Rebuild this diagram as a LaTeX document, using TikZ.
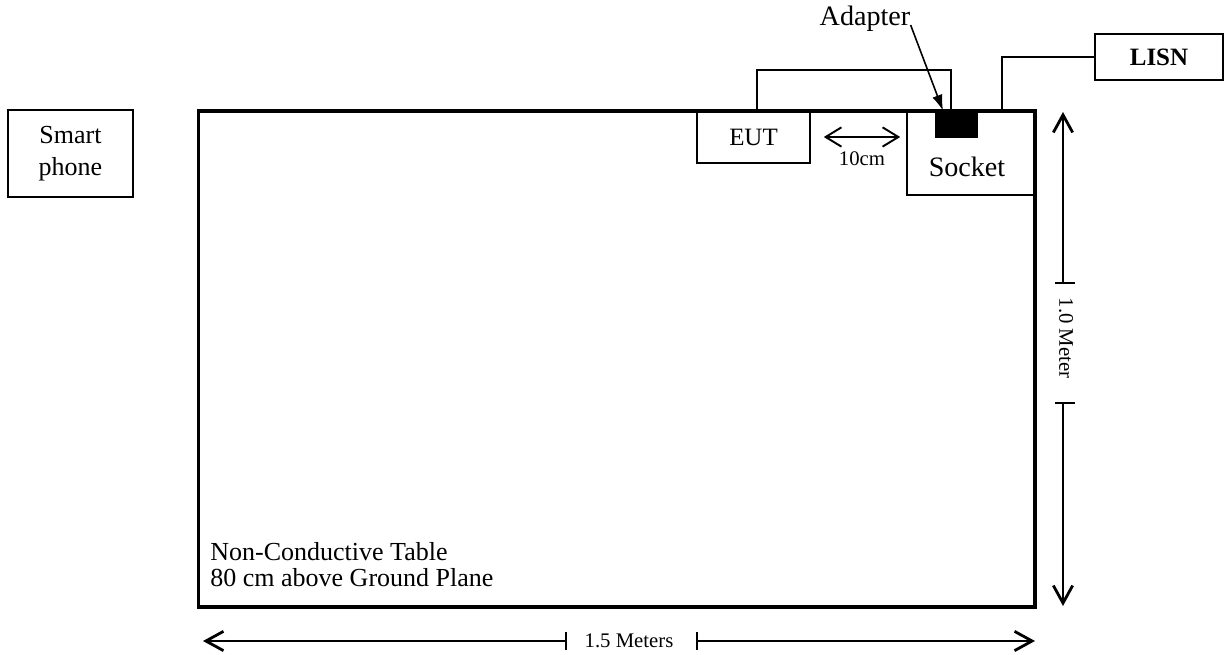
\documentclass[tikz,border=0pt]{standalone}
\usepackage{fontspec}
\setmainfont{Liberation Serif}
\usetikzlibrary{arrows.meta}
\usetikzlibrary{calc}
\usetikzlibrary{positioning}
\tikzset{
    plainbox/.style = {draw, rectangle, line width=0.9pt, inner sep=0pt, align=center,
        font=\fontsize{14.8}{18.2}\selectfont},
    tablebox/.style = {draw, rectangle, line width=1.8pt, inner sep=0pt,
        minimum width=16.74cm, minimum height=9.92cm},% table seen from above
    plugbox/.style = {rectangle, fill=black, inner sep=0pt,
        minimum width=0.86cm, minimum height=0.54cm},% adapter
    wire/.style = {line width=0.9pt},
    dimline/.style = {line width=0.7pt},
    bigtext/.style = {font=\fontsize{16}{19}\selectfont, inner sep=0pt},
    smalltext/.style = {font=\fontsize{11.8}{14}\selectfont, inner sep=0pt},
}

\begin{document}
\begin{tikzpicture}[x=0.02cm, y=-0.02cm,
    >={Straight Barb[length=10pt,width=11pt,line width=1.6pt]}]
\useasboundingbox (0,0) rectangle (1225,655);
% devices
\node [plainbox, minimum width=2.5cm, minimum height=1.74cm] (phone) at (70.5,153.5) {Smart\\phone};
\node [plainbox, minimum width=2.26cm, minimum height=1.04cm,
    font=\fontsize{14.2}{17}\selectfont] (eut) at (753.5,137) {EUT};
\node [plainbox, minimum width=2.56cm, minimum height=1.68cm] (socket) at (971,153) {};
\node [bigtext] (socketlbl) at ($(socket.center)+(-4,14)$) {Socket};
\node [plugbox] (adapter) at (956.5,124.5) {};
\node [plainbox, minimum width=2.56cm, minimum height=0.92cm,
    font=\fontsize{14.2}{17}\selectfont\bfseries] (lisn) at (1159,57) {LISN};
\node [tablebox] (table) at (616.5,359) {};
\node [align=left, inner sep=0pt, anchor=south west,
    font=\fontsize{14.8}{15}\selectfont] (tbltext) at (210,587)
    {Non-Conductive Table\\80 cm above Ground Plane};
\node [bigtext] (adapterlbl) at (865,19) {Adapter};
% cables
\draw [wire] ([xshift=0.07cm]eut.north) -- ++(0,-40) -| ([xshift=-0.11cm]adapter.north);
\draw [wire] ([xshift=0.62cm]socket.north) |- (lisn.west);
\draw [wire, -{Latex[length=9pt,width=6pt]}] ([yshift=-0.12cm]adapterlbl.east)
    -- ([xshift=-0.27cm]adapter.north);
% distance EUT - socket
\draw [dimline, <->, >={Straight Barb[length=9pt,width=11pt,line width=1.1pt]}]
    ([xshift=0.26cm]eut.east) -- ([xshift=-0.12cm]eut.east -| socket.west)
    node [smalltext, midway, below=0.28cm] (gaplbl) {10cm};
% table depth
\coordinate (vtop) at (1063,112);
\coordinate (vbot) at (1063,606);
\coordinate (vt1) at (1063,283);
\coordinate (vt2) at (1063,403);
\node [smalltext, rotate=-90] (depthlbl) at (1066,338) {1.0 Meter};
\draw [dimline, ->] (vt1) -- (vtop);
\draw [dimline, ->] (vt2) -- (vbot);
\draw [dimline] ([xshift=-0.16cm]vt1) -- ([xshift=0.24cm]vt1);
\draw [dimline] ([xshift=-0.16cm]vt2) -- ([xshift=0.24cm]vt2);
% table width
\coordinate (hl) at (203,641);
\coordinate (hr) at (1035,641);
\coordinate (ht1) at (566,641);
\coordinate (ht2) at (697,641);
\node [smalltext] (widthlbl) at (629,641) {1.5 Meters};
\draw [dimline, ->] (ht1) -- (hl);
\draw [dimline, ->] (ht2) -- (hr);
\draw [dimline] ([yshift=0.18cm]ht1) -- ([yshift=-0.18cm]ht1);
\draw [dimline] ([yshift=0.18cm]ht2) -- ([yshift=-0.18cm]ht2);
\end{tikzpicture}
\end{document}
